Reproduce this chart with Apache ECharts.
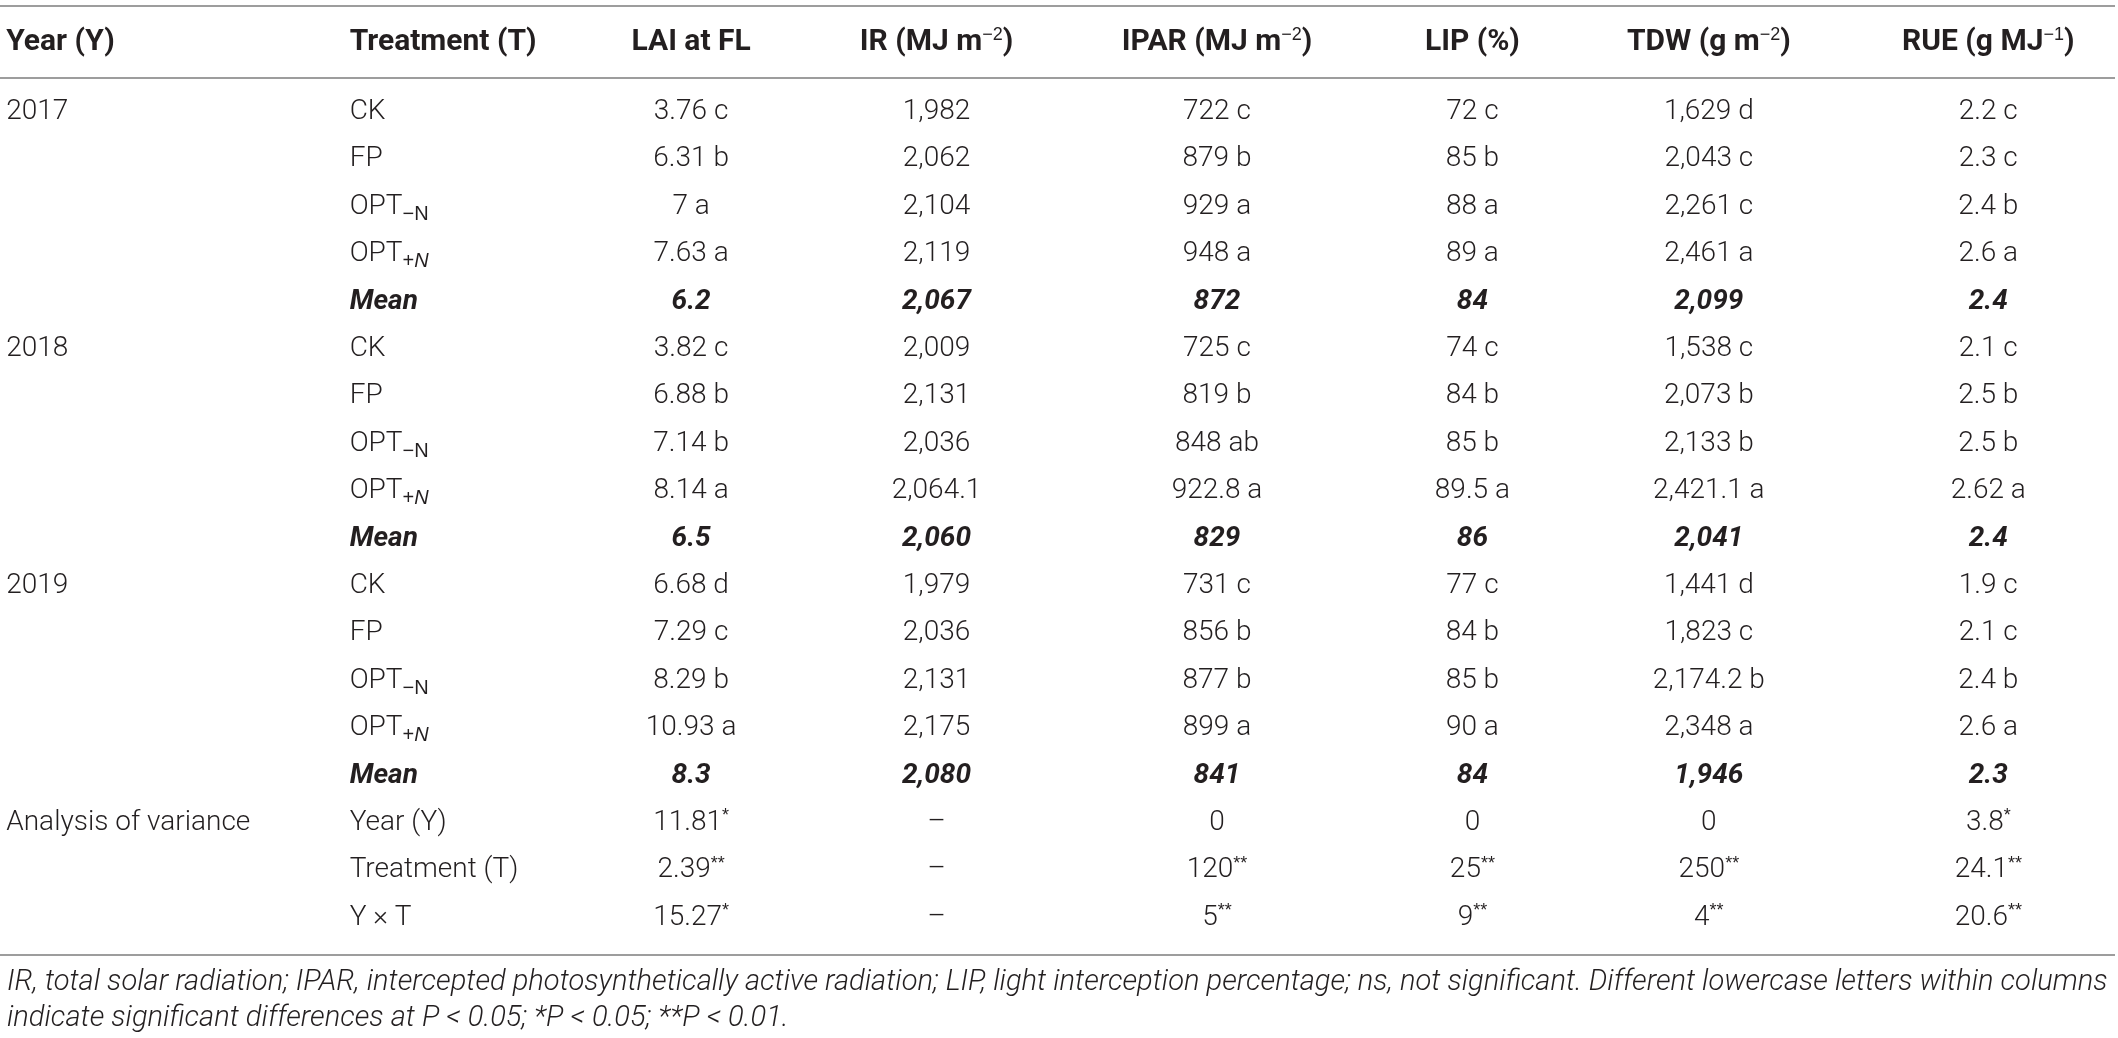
<!DOCTYPE html>
<html>
<head>
<meta charset="utf-8">
<title>LAI, radiation and RUE table</title>
<script src="https://cdn.jsdelivr.net/npm/echarts@6/dist/echarts.min.js"></script>
<style>
html, body { margin: 0; padding: 0; background: #fff; }
#table { width: 2118px; height: 1038px; }
</style>
</head>
<body>
<div id="table"></div>
<script>
// column headers ({sup|..} marks superscript)
var headers = ['Year (Y)', 'Treatment (T)', 'LAI at FL', 'IR (MJ m{sup|\u22122})', 'IPAR (MJ m{sup|\u22122})',
    'LIP (%)', 'TDW (g m{sup|\u22122})', 'RUE (g MJ{sup|\u22121})'];

var years = ['2017', '', '', '', '', '2018', '', '', '', '', '2019', '', '', '', '', 'Analysis of variance', '', ''];
var treatments = ['CK', 'FP', 'OPT-N', 'OPT+N', 'Mean', 'CK', 'FP', 'OPT-N', 'OPT+N', 'Mean',
    'CK', 'FP', 'OPT-N', 'OPT+N', 'Mean', 'Year (Y)', 'Treatment (T)', 'Y \u00d7 T'];
var lai = ['3.76 c', '6.31 b', '7 a', '7.63 a', '6.2', '3.82 c', '6.88 b', '7.14 b', '8.14 a', '6.5',
    '6.68 d', '7.29 c', '8.29 b', '10.93 a', '8.3', '11.81*', '2.39**', '15.27*'];
var ir = ['1,982', '2,062', '2,104', '2,119', '2,067', '2,009', '2,131', '2,036', '2,064.1', '2,060',
    '1,979', '2,036', '2,131', '2,175', '2,080', '\u2013', '\u2013', '\u2013'];
var ipar = ['722 c', '879 b', '929 a', '948 a', '872', '725 c', '819 b', '848 ab', '922.8 a', '829',
    '731 c', '856 b', '877 b', '899 a', '841', '0', '120**', '5**'];
var lip = ['72 c', '85 b', '88 a', '89 a', '84', '74 c', '84 b', '85 b', '89.5 a', '86',
    '77 c', '84 b', '85 b', '90 a', '84', '0', '25**', '9**'];
var tdw = ['1,629 d', '2,043 c', '2,261 c', '2,461 a', '2,099', '1,538 c', '2,073 b', '2,133 b', '2,421.1 a', '2,041',
    '1,441 d', '1,823 c', '2,174.2 b', '2,348 a', '1,946', '0', '250**', '4**'];
var rue = ['2.2 c', '2.3 c', '2.4 b', '2.6 a', '2.4', '2.1 c', '2.5 b', '2.5 b', '2.62 a', '2.4',
    '1.9 c', '2.1 c', '2.4 b', '2.6 a', '2.3', '3.8*', '24.1**', '20.6**'];

var footnotes = [
    'IR, total solar radiation; IPAR, intercepted photosynthetically active radiation; LIP, light interception percentage; ns, not significant. Different lowercase letters within columns',
    'indicate significant differences at P < 0.05; *P < 0.05; **P < 0.01.'
];

var columns = [years, treatments, lai, ir, ipar, lip, tdw, rue];

// styles
var FONT = 'Roboto, "Liberation Sans", sans-serif';
var INK = '#231f20';
var RULE = '#9d9d9d';
var colNudge = [-166, -82, 0, -14, 7, 3, -20, 0]; // first two columns are left aligned
var headerGap = 70;
var richStyles = {
    sup: { fontSize: 18, padding: [0, 0, 13, 0] },
    sub: { fontSize: 20, padding: [15, 0, 0, 0] },
    subi: { fontSize: 20, fontStyle: 'italic', padding: [15, 0, 0, 0] }
};

function markup(s) {
    if (s === 'OPT-N') return 'OPT{sub|\u2212N}';
    if (s === 'OPT+N') return 'OPT{sub|+}{subi|N}';
    var m = s.match(/^(.*?)(\*+)$/);
    if (m) return m[1] + '{sup|' + m[2] + '}';
    return s;
}

var cells = [];
for (var c = 0; c < columns.length; c++) {
    for (var r = 0; r < columns[c].length; r++) {
        if (columns[c][r] !== '') cells.push({ value: [c, r], text: markup(columns[c][r]), mean: treatments[r] === 'Mean' });
    }
}
var headCells = headers.map(function (h, i) { return { value: [i, 0], text: h }; });

function textEl(api, c, y, text, size, weight, style) {
    var p = api.coord([c, 0]);
    return {
        type: 'text',
        x: p[0] + colNudge[c],
        y: y,
        style: {
            text: text,
            rich: richStyles,
            align: c < 2 ? 'left' : 'center',
            verticalAlign: 'middle',
            fontFamily: FONT,
            fontSize: size,
            fontWeight: weight,
            fontStyle: style,
            fill: INK
        }
    };
}

var chart = echarts.init(document.getElementById('table'), null, { renderer: 'canvas' });
chart.setOption({
    backgroundColor: '#fff',
    animation: false,
    grid: { left: 42.5, top: 88.3, width: 2104, height: 853.2 },
    xAxis: { type: 'category', data: headers, show: false },
    yAxis: { type: 'category', data: treatments, inverse: true, show: false },
    series: [{
        type: 'custom',
        data: cells,
        renderItem: function (params, api) {
            var cell = cells[params.dataIndex];
            var y = api.coord([0, api.value(1)])[1];
            return textEl(api, api.value(0), y, cell.text, 28, cell.mean ? 'bold' : 300, cell.mean ? 'italic' : 'normal');
        }
    }, {
        type: 'custom',
        data: headCells,
        renderItem: function (params, api) {
            var y = api.coord([0, 0])[1] - headerGap;
            return textEl(api, api.value(0), y, headCells[params.dataIndex].text, 30, 'bold', 'normal');
        }
    }],
    graphic: [
        { type: 'line', shape: { x1: 0, y1: 6, x2: 2115, y2: 6 }, style: { stroke: RULE, lineWidth: 2 } },
        { type: 'line', shape: { x1: 0, y1: 78, x2: 2115, y2: 78 }, style: { stroke: RULE, lineWidth: 2 } },
        { type: 'line', shape: { x1: 0, y1: 955, x2: 2115, y2: 955 }, style: { stroke: RULE, lineWidth: 2 } },
        { type: 'text', x: 7, y: 983, style: { text: footnotes[0], fontFamily: FONT, fontSize: 29.1, fontStyle: 'italic', fontWeight: 300, fill: INK, verticalAlign: 'middle' } },
        { type: 'text', x: 7, y: 1019, style: { text: footnotes[1], fontFamily: FONT, fontSize: 29.1, fontStyle: 'italic', fontWeight: 300, fill: INK, verticalAlign: 'middle' } }
    ]
});
</script>
</body>
</html>
